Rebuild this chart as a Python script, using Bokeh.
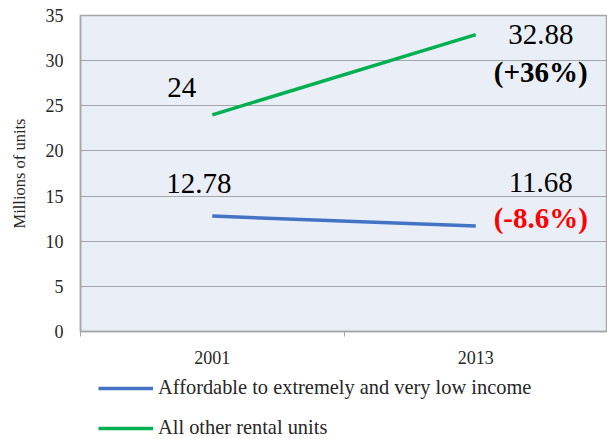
from bokeh.plotting import figure
from bokeh.layouts import column
from bokeh.models import FixedTicker, Legend, LegendItem, Range1d, Label
from bokeh.embed import file_html
from bokeh.resources import INLINE

years = ["2001", "2013"]
affordable = [12.78, 11.68]
other_units = [24, 32.88]
affordable_change = "(-8.6%)"
other_change = "(+36%)"
series_names = ["Affordable to extremely and very low income", "All other rental units"]
colors = ["#4472C4", "#00B050"]

FONT = "Liberation Serif"
xs = [i + 0.5 for i in range(len(years))]

p = figure(width=607, height=375, output_backend="svg", toolbar_location=None,
           x_range=Range1d(0, len(years)), y_range=Range1d(0, 35),
           min_border_left=80, min_border_right=0, min_border_top=15, min_border_bottom=44)
p.background_fill_color = "#EAEFF7"
p.border_fill_color = "white"
p.outline_line_color = "#A6A6A6"
p.outline_line_width = 1.5

# axes
p.xaxis.ticker = FixedTicker(ticks=xs, minor_ticks=list(range(len(years) + 1)))
p.xaxis.major_label_overrides = {x: y for x, y in zip(xs, years)}
p.xaxis.major_tick_line_color = None
p.xaxis.major_tick_out = 0
p.xaxis.major_tick_in = 0
p.xaxis.minor_tick_out = 5
p.xaxis.minor_tick_in = 0
p.xaxis.minor_tick_line_color = "#A6A6A6"
p.xaxis.axis_line_color = "#A6A6A6"
p.xaxis.axis_line_width = 1.5
p.xaxis.major_label_standoff = 14
p.xaxis.major_label_text_font = FONT
p.xaxis.major_label_text_font_size = "18px"
p.xaxis.major_label_text_color = "#262626"
p.xgrid.grid_line_color = None

p.yaxis.ticker = FixedTicker(ticks=list(range(0, 36, 5)))
p.yaxis.major_tick_line_color = None
p.yaxis.major_tick_out = 0
p.yaxis.major_tick_in = 0
p.yaxis.minor_tick_line_color = None
p.yaxis.minor_tick_out = 0
p.yaxis.axis_line_color = "#A6A6A6"
p.yaxis.axis_line_width = 1.5
p.yaxis.major_label_standoff = 17
p.yaxis.major_label_text_font = FONT
p.yaxis.major_label_text_font_size = "18px"
p.yaxis.major_label_text_color = "#262626"
p.yaxis.axis_label = "Millions of units"
p.yaxis.axis_label_text_font = FONT
p.yaxis.axis_label_text_font_size = "16.5px"
p.yaxis.axis_label_text_font_style = "normal"
p.yaxis.axis_label_text_color = "#262626"
p.yaxis.axis_label_standoff = 14
p.ygrid.grid_line_color = "#A6A6A6"
p.ygrid.grid_line_width = 1.2

p.line(xs, affordable, line_color=colors[0], line_width=3.5)
p.line(xs, other_units, line_color=colors[1], line_width=3.5)

# data labels
def add_label(x, y, text, xo, yo, align="left", color="black", style="normal"):
    p.add_layout(Label(x=x, y=y, text=text, x_offset=xo, y_offset=yo,
                       text_align=align, text_baseline="alphabetic",
                       text_font=FONT, text_font_size="29px",
                       text_color=color, text_font_style=style))

add_label(xs[0], other_units[0], str(other_units[0]), -45, 27)
add_label(xs[0], affordable[0], f"{affordable[0]:.2f}", -46, 33)
add_label(xs[1], other_units[1], f"{other_units[1]:.2f}", 65, 0, align="center")
add_label(xs[1], other_units[1], other_change, 65, -37, align="center", style="bold")
add_label(xs[1], affordable[1], f"{affordable[1]:.2f}", 65, 44, align="center")
add_label(xs[1], affordable[1], affordable_change, 65, 8, align="center",
          color="#FF0000", style="bold")

# legend strip below the chart (series drawn off-range; only legend visible)
leg = figure(width=607, height=64, output_backend="svg", toolbar_location=None,
             x_range=Range1d(0, len(years)), y_range=Range1d(100, 101),
             x_axis_location=None, y_axis_location=None,
             min_border=0, outline_line_color=None)
leg.grid.visible = False
items = []
for name, c, vals in zip(series_names, colors, [affordable, other_units]):
    rr = leg.line(xs, vals, line_color=c, line_width=3.5)
    items.append(LegendItem(label=name, renderers=[rr]))
legend = Legend(items=items, orientation="vertical", location=(18, 0))
legend.glyph_width = 55
legend.glyph_height = 20
legend.label_height = 20
legend.label_standoff = 5
legend.spacing = 17
legend.padding = 0
legend.margin = 0
legend.border_line_color = None
legend.background_fill_alpha = 0
legend.label_text_font = FONT
legend.label_text_font_size = "20.4px"
legend.label_text_color = "#262626"
leg.add_layout(legend, "center")

open("out.html", "w").write(file_html(column(p, leg, spacing=0), INLINE))
